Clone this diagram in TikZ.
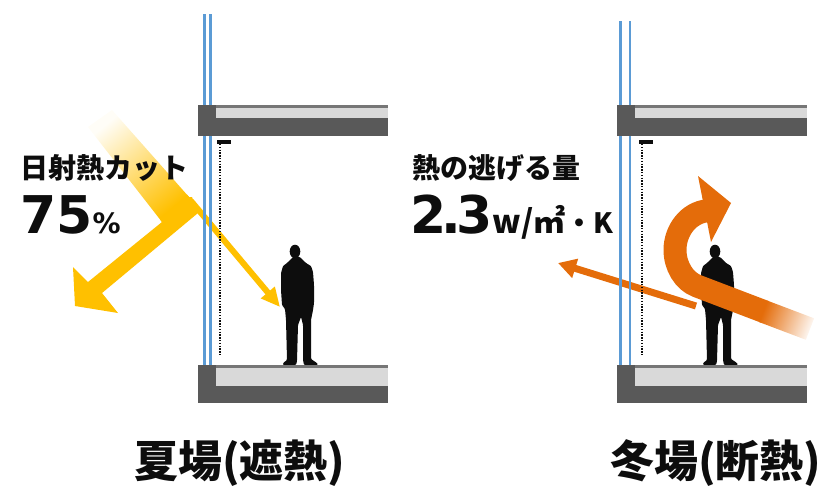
\documentclass[tikz,border=0pt]{standalone}
\usepackage{fontspec}
\usepackage{tikz}
\usetikzlibrary{arrows.meta}
\newfontfamily\jpfont{Noto Sans CJK JP}
\newfontfamily\numfont{DejaVu Sans}
\definecolor{sunny}{HTML}{FFC000}
\definecolor{heat}{HTML}{E46C0A}
\definecolor{glassblue}{HTML}{5B9BD5}
\definecolor{slabdark}{HTML}{595959}
\definecolor{slablight}{HTML}{D9D9D9}
\definecolor{slabedge}{HTML}{767676}
\definecolor{ink}{HTML}{0D0D0D}
\tikzset{
  glass/.style={draw=glassblue, line width=2.8pt},
  blind/.style={draw=ink, line width=3.5pt},
  cord/.style={draw=ink, line width=1.5pt, dash pattern=on 1.4pt off 1.4pt},
  ray/.style={draw=sunny, line width=6pt, -{Triangle[length=19pt,width=17pt]}},
  loss/.style={draw=heat, line width=7pt, -{Triangle[length=18pt,width=19pt]}},
  swirl/.style={draw=heat, line width=23pt},
  lead/.style={font=\jpfont\bfseries\fontsize{28pt}{28pt}\selectfont, text=ink, inner sep=0pt},
  figs/.style={font=\numfont\bfseries\fontsize{52pt}{52pt}\selectfont, text=ink, inner sep=0pt},
  season/.style={font=\jpfont\bfseries\fontsize{44pt}{44pt}\selectfont, text=ink, inner sep=0pt},
  % standing figure, origin between the feet on the floor
  man/.pic={
    \fill[ink] (-2,-113.5) ellipse [x radius=5.3, y radius=6.8];
    \fill[ink, rounded corners=1pt] (-4,-108) -- (-10,-102) -- (-14,-99) -- (-16,-92) -- (-16,-75)
      -- (-15,-60) -- (-12,-56) -- (-11,-45) -- (-10,-5) -- (-14,-2) -- (-14,0) -- (-1,0)
      -- (0,-4) -- (1,-40) -- (4,-48) -- (6,-40) -- (6,-5) -- (7,0) -- (21,0) -- (20,-2)
      -- (14,-6) -- (14,-45) -- (16,-55) -- (17,-62) -- (17,-80) -- (16,-93) -- (14,-99)
      -- (9,-102) -- (3,-108) -- cycle;
  }
}

\begin{document}
\begin{tikzpicture}[x=1pt, y=-1pt]
  \useasboundingbox (0,0) rectangle (829,493);

  \pic at (297,365) {man};
  \pic at (717,365) {man};

  % summer: sunlight bounced off the glass
  \coordinate (glassHit) at (191,201);
  \coordinate (manLeft) at (280,307);
  \draw[ray] (glassHit) -- (manLeft);
  \shade[top color=sunny!3, middle color=sunny!85, bottom color=sunny, shading angle=39.3]
    (88,127) -- (112,110) -- (189,197) -- (162,222) -- cycle;
  \fill[sunny] (160.1,219.7) -- (187.1,194.7) -- (189,197) -- (192,197) -- (198,213) -- (102,293)
    -- (118,313) -- (75,306) -- (73,267) -- (88,282) -- (162,222) -- cycle;

  % winter: room heat turned back indoors
  \coordinate (warmOut) at (696,306);
  \coordinate (coldSide) at (558,263);
  \draw[loss] (warmOut) -- (coldSide);
  \draw[swirl] (764.7,311.8) -- (697,286) .. controls (684,281) and (675,266) .. (675,250)
    .. controls (675,230) and (689,212.6) .. (707,210.8);
  \fill[heat] (698,176) -- (731,203) -- (711,242) -- cycle;
  \shade[top color=heat, bottom color=heat!6, shading angle=69.3]
    (767.3,300.6) -- (814.1,318.3) -- (805.9,339.8) -- (759.2,322.1) -- cycle;

  % window, blind and slabs of both rooms
  \foreach \ox/\gt/\ga/\gb/\bx in {198/14/204.7/210.5/217, 617/21/620.8/630/639} {
    \draw[glass] (\ga,\gt) -- (\ga,365);
    \draw[glass] (\gb,\gt) -- (\gb,365);
    \draw[blind] (\bx,142) -- (\bx+14,142);
    \draw[cord] (\bx+3,144) -- (\bx+3,356);
    \fill[slabdark] (\ox,105) rectangle (\ox+190,136);
    \fill[slabedge] (\ox+18,105) rectangle (\ox+190,108);
    \fill[slablight] (\ox+18,108) rectangle (\ox+190,118);
    \fill[slabdark] (\ox,365) rectangle (\ox+190,403);
    \fill[slabedge] (\ox+18,365) rectangle (\ox+190,367.5);
    \fill[slablight] (\ox+18,367.5) rectangle (\ox+190,386);
  }

  \node[lead, anchor=west] (cutLbl) at (20,168) {日射熱カット};
  \node[figs, anchor=base west] (cutVal) at (20,233) {75{\fontsize{28pt}{28pt}\selectfont\%}};
  \node[lead, anchor=west] (lossLbl) at (412,168) {熱の逃げる量};
  \node[figs, anchor=base west] (lossVal) at (410,233)
    {2\kern-5pt.\kern-5pt3{\jpfont\bfseries\fontsize{32pt}{32pt}\selectfont w/㎡\fontsize{28pt}{28pt}\selectfont・K}};
  \node[season, anchor=west] (summer) at (134,463) {夏場(遮熱)};
  \node[season, anchor=west] (winter) at (610,463) {冬場(断熱)};
\end{tikzpicture}
\end{document}
